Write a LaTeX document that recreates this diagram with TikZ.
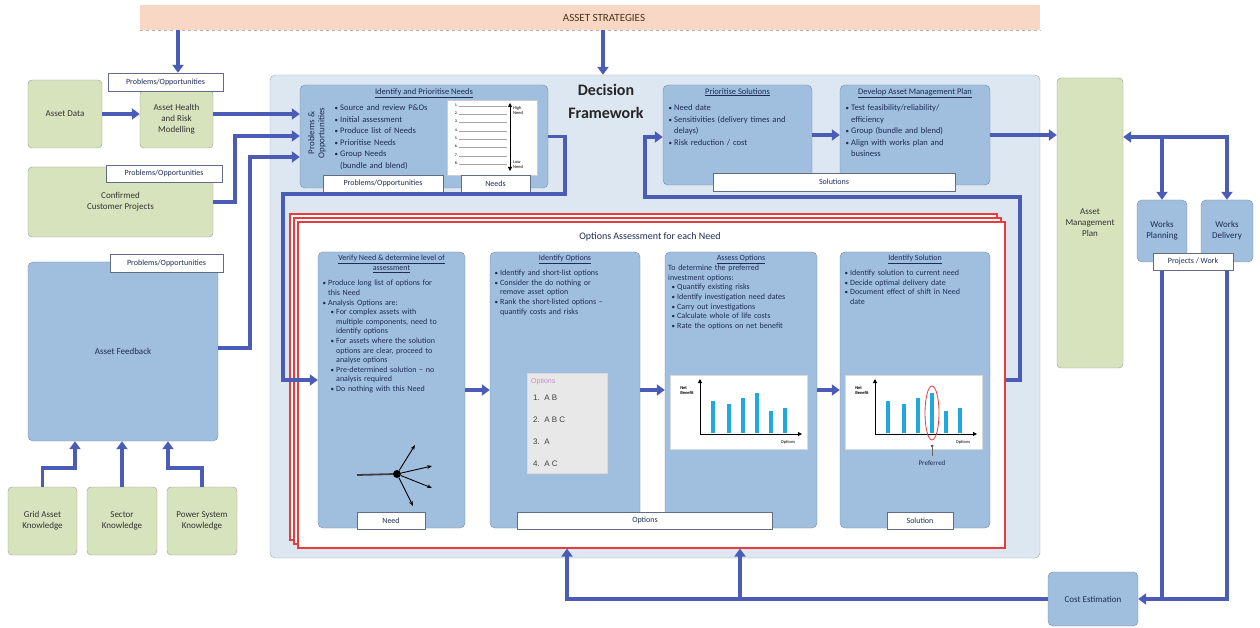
\documentclass[tikz,border=0pt]{standalone}
\usepackage{fontspec}
\setmainfont{Carlito}
\newfontfamily\arialfont{Liberation Sans}
\usepackage{enumitem}
\setlist[itemize]{nosep,leftmargin=7pt,labelsep=2pt,label={\scriptsize\textbullet}}
\setlist[itemize,2]{leftmargin=8pt}
\usetikzlibrary{arrows.meta,positioning}

\definecolor{flowblue}{RGB}{74,92,182}
\definecolor{greenfill}{RGB}{215,227,188}
\definecolor{bluefill}{RGB}{160,190,222}
\definecolor{bluedraw}{RGB}{120,138,165}
\definecolor{framefill}{RGB}{221,231,241}
\definecolor{peach}{RGB}{248,216,196}
\definecolor{textnavy}{RGB}{30,45,85}
\definecolor{pagered}{RGB}{232,60,60}
\definecolor{barcyan}{RGB}{32,168,224}

\tikzset{
  greenbox/.style={draw=gray!80, fill=greenfill, rounded corners=4pt, align=center, inner sep=0pt, font=\fontsize{9}{11}\selectfont, text=black!80},
  bluebox/.style={draw=bluedraw, fill=bluefill, rounded corners=5pt, align=center, inner sep=0pt, font=\fontsize{9}{11}\selectfont, text=textnavy},
  tag/.style={draw=textnavy!70, fill=white, font=\fontsize{8}{9}\selectfont, text=textnavy, inner sep=0pt},
  flow/.style={draw=flowblue, line width=3.5pt, -{Triangle[length=8pt,width=11pt]}},
  flowline/.style={draw=flowblue, line width=3.5pt},
  boxtitle/.style={font=\fontsize{8}{9.6}\selectfont, text=textnavy, align=center, anchor=north, inner sep=0pt},
  boxtext/.style={font=\fontsize{8}{9.6}\selectfont, text=textnavy, align=left, anchor=north west, inner sep=0pt},
  stackpage/.style={draw=pagered, line width=1.2pt, fill=white},
  axis/.style={line width=1pt, -{Triangle[length=4pt,width=4pt]}},
}

\begin{document}
\begin{tikzpicture}[x=1pt,y=-1pt]
\useasboundingbox (0,0) rectangle (1260,628);

% asset strategies
\node[fill=peach, minimum width=900pt, minimum height=25pt, inner sep=0pt] (strat) at (590,17.5) {};
\draw[gray!60, dashed, line width=0.8pt] (strat.south west) -- (strat.south east);
\node[font=\fontsize{11}{13}\selectfont, text=brown!40!black] (strattext) at (604,18) {ASSET STRATEGIES};

% decision framework
\node[draw=gray!70, fill=framefill, rounded corners=5pt, minimum width=770pt, minimum height=483pt, inner sep=0pt] (frame) at (655,316.5) {};
\node[font=\fontsize{16}{23}\selectfont\bfseries, align=center, text=black!85] (frametitle) at (606,101) {Decision\\Framework};
\draw[flow] (strat.south -| 603,0) -- (frame.north -| 603,0);

% inputs on the left
\node[greenbox, minimum width=74pt, minimum height=68pt] (adata) at (65,114) {Asset Data};
\node[greenbox, minimum width=73pt, minimum height=58pt] (ahrm) at (176.5,119) {Asset Health\\and Risk\\Modelling};
\node[tag, minimum width=115pt, minimum height=18pt] (ahrmtag) at (165.5,82) {Problems/Opportunities};
\draw[flow] (strat.south -| 178,0) -- (ahrmtag.north -| 178,0);
\draw[flow] (adata.east) -- (ahrm.west |- adata.east);
\node[greenbox, minimum width=185pt, minimum height=70pt] (ccp) at (120.5,202) {Confirmed\\Customer Projects};
\node[tag, minimum width=116pt, minimum height=17pt] (ccptag) at (164,173.5) {Problems/Opportunities};
\node[bluebox, minimum width=190pt, minimum height=179pt] (afb) at (123,351.5) {Asset Feedback};
\node[tag, minimum width=113pt, minimum height=18pt] (afbtag) at (166.5,263) {Problems/Opportunities};
\node[greenbox, minimum width=69pt, minimum height=68pt] (gak) at (42.5,521) {Grid Asset\\Knowledge};
\node[greenbox, minimum width=70pt, minimum height=68pt] (sk) at (122,521) {Sector\\Knowledge};
\node[greenbox, minimum width=70pt, minimum height=68pt] (psk) at (202,521) {Power System\\Knowledge};
\draw[flow] (gak.north) -- (42.5,468) -- (75,468) -- (afb.south -| 75,0);
\draw[flow] (sk.north) -- (afb.south -| sk.north);
\draw[flow] (psk.north) -- (202,468) -- (168,468) -- (afb.south -| 168,0);

% identify and prioritise needs
\node[bluebox, minimum width=248pt, minimum height=103pt] (needs) at (424,136.5) {};
\node[boxtitle, font=\fontsize{8.5}{11}\selectfont] (needstitle) at (424,88) {\underline{Identify and Prioritise Needs}};
\node[rotate=90, align=center, font=\fontsize{9}{10}\selectfont, text=textnavy] (povert) at (317,133) {Problems \&\\Opportunities};
\node[boxtext, text width=118pt, font=\fontsize{8.5}{11.5}\selectfont] (needstext) at (333,99) {\begin{itemize}
  \item Source and review P\&Os
  \item Initial assessment
  \item Produce list of Needs
  \item Prioritise Needs
  \item Group Needs\newline(bundle and blend)
\end{itemize}};
\node[fill=white, draw=gray!40, minimum width=90pt, minimum height=75pt, inner sep=0pt] (rank) at (492,137.5) {};
\foreach \i in {1,...,8} {
  \node[font=\fontsize{4}{4}\selectfont, inner sep=0pt, anchor=east] at (458,{105+(\i-1)*8.3}) {\i.};
  \draw[gray!70, line width=0.4pt] (459,{106+(\i-1)*8.3}) -- (507,{106+(\i-1)*8.3});
}
\draw[{Triangle[length=4pt,width=4pt]}-{Triangle[length=4pt,width=4pt]}, line width=0.8pt] (510,103) -- (510,171);
\node[font=\fontsize{4.5}{5}\selectfont, align=left, anchor=west, inner sep=0pt] (high) at (513,110) {High\\Need};
\node[font=\fontsize{4.5}{5}\selectfont, align=left, anchor=west, inner sep=0pt] (low) at (513,165) {Low\\Need};
\node[tag, minimum width=120pt, minimum height=17pt] (potag) at (383,183.5) {Problems/Opportunities};
\node[tag, minimum width=69pt, minimum height=17pt] (needstag) at (495.5,183.5) {Needs};
\draw[flow] (ahrm.east |- adata.east) -- (needs.west |- adata.east);
\draw[flow] (ccp.east) -- (235,202) -- (235,136) -- (needs.west |- 0,136);
\draw[flow] (afb.east |- 0,348) -- (250,348) -- (250,157) -- (needs.west |- 0,157);

% solutions
\node[bluebox, minimum width=149pt, minimum height=100pt] (prio) at (737.5,135) {};
\node[boxtitle, font=\fontsize{8.5}{11}\selectfont] (priotitle) at (737.5,88) {\underline{Prioritise Solutions}};
\node[boxtext, text width=142pt, font=\fontsize{8.5}{11.5}\selectfont] (priotext) at (667,99) {\begin{itemize}
  \item Need date
  \item Sensitivities (delivery times and\newline delays)
  \item Risk reduction / cost
\end{itemize}};
\node[bluebox, minimum width=150pt, minimum height=100pt] (damp) at (915,135) {};
\node[boxtitle, font=\fontsize{8.5}{11}\selectfont] (damptitle) at (915,88) {\underline{Develop Asset Management Plan}};
\node[boxtext, text width=142pt, font=\fontsize{8.5}{11.5}\selectfont] (damptext) at (844,99) {\begin{itemize}
  \item Test feasibility/reliability/\newline efficiency
  \item Group (bundle and blend)
  \item Align with works plan and\newline business
\end{itemize}};
\node[tag, minimum width=242pt, minimum height=18pt] (soltag) at (834,182) {Solutions};
\draw[flow] (prio.east) -- (damp.west);

% options assessment stack
\draw[stackpage] (290,214) rectangle (997,540);
\draw[stackpage] (294,218) rectangle (1001,544);
\node[stackpage, minimum width=707pt, minimum height=326pt, inner sep=0pt] (oa) at (651.5,385) {};
\node[font=\fontsize{10}{12}\selectfont, text=textnavy] (oatitle) at (650,237) {Options Assessment for each Need};

\node[bluebox, minimum width=147pt, minimum height=276pt] (verify) at (391.5,390) {};
\node[bluebox, minimum width=150pt, minimum height=276pt] (idopt) at (565,390) {};
\node[bluebox, minimum width=152pt, minimum height=276pt] (assess) at (741,390) {};
\node[bluebox, minimum width=150pt, minimum height=276pt] (idsol) at (915,390) {};
\draw[flow] (verify.east) -- (idopt.west);
\draw[flow] (idopt.east) -- (assess.west);
\draw[flow] (assess.east) -- (idsol.west);

\node[boxtitle] (verifytitle) at (391.5,255) {\underline{Verify Need \& determine level of}\\\underline{assessment}};
\node[boxtext, text width=142pt] (verifytext) at (321,276) {\begin{itemize}
  \item Produce long list of options for\newline this Need
  \item Analysis Options are:
  \begin{itemize}
    \item For complex assets with\newline multiple components, need to\newline identify options
    \item For assets where the solution\newline options are clear, proceed to\newline analyse options
    \item Pre-determined solution -- no\newline analysis required
    \item Do nothing with this Need
  \end{itemize}
\end{itemize}};
\draw[gray!50!black, line width=1.8pt] (357,475) -- (395,474);
\node[circle, fill=black, inner sep=0pt, minimum size=8pt] (hub) at (397,474) {};
\foreach \ex/\ey in {415/445,432/466,432/488,413/506}
  \draw[-{Stealth[length=5pt]}, line width=0.9pt] (hub) -- (\ex,\ey);

\node[boxtitle] (idopttitle) at (565,255) {\underline{Identify Options}};
\node[boxtext, text width=145pt] (idopttext) at (493,266) {\begin{itemize}
  \item Identify and short-list options
  \item Consider the do nothing or\newline remove asset option
  \item Rank the short-listed options --\newline quantify costs and risks
\end{itemize}};
\node[fill=gray!18, draw=gray!30, minimum width=80pt, minimum height=100pt, inner sep=0pt] (optlist) at (567,423) {};
\node[anchor=west, font=\arialfont\fontsize{7}{8}\selectfont, text=violet!45, inner sep=0pt] (optlisthead) at (531,382) {Options};
\foreach \k/\t in {1/A B,2/A B C,3/A,4/A C}
  \node[anchor=west, font=\arialfont\fontsize{8}{9}\selectfont, text=gray!50!black, inner sep=0pt] at (533,{398+(\k-1)*22}) {\k.\ \ \t};

\node[boxtitle] (assesstitle) at (741,255) {\underline{Assess Options}};
\node[boxtext, text width=148pt] (assesstext) at (668,265) {To determine the preferred\newline investment options:
\begin{itemize}[leftmargin=9pt]
  \item Quantify existing risks
  \item Identify investigation need dates
  \item Carry out investigations
  \item Calculate whole of life costs
  \item Rate the options on net benefit
\end{itemize}};

\node[boxtitle] (idsoltitle) at (915,255) {\underline{Identify Solution}};
\node[boxtext, text width=146pt] (idsoltext) at (843,266) {\begin{itemize}
  \item Identify solution to current need
  \item Decide optimal delivery date
  \item Document effect of shift in Need\newline date
\end{itemize}};

% net benefit charts
\foreach \cx in {0,175} {
  \begin{scope}[xshift=\cx pt]
    \node[fill=white, draw=gray!30, minimum width=137pt, minimum height=74pt, inner sep=0pt] at (738.5,412) {};
    \foreach \bx/\by in {713/401,729/404,743/398,757/393,771/411,785/408}
      \fill[barcyan] (\bx-2,433) rectangle (\bx+2,\by);
    \draw[axis] (700,434) -- (700,379);
    \draw[axis] (700,434) -- (802,434);
    \node[font=\fontsize{4.5}{5}\selectfont\bfseries, align=left, inner sep=0pt] at (687,391) {Net\\Benefit};
    \node[font=\fontsize{4.5}{5}\selectfont, inner sep=0pt] at (788,442) {Options};
  \end{scope}
}
\draw[pagered, line width=0.8pt] (932,413) ellipse [x radius=7pt, y radius=27pt];
\fill[black!70] (932,446) circle [radius=1.5pt];
\draw[black!60, line width=0.5pt] (932,446) -- (932,456);
\node[font=\fontsize{7}{8}\selectfont, text=textnavy] (preferred) at (932,463) {Preferred};

\node[tag, minimum width=68pt, minimum height=17pt] (needtag) at (391,520.5) {Need};
\node[tag, minimum width=255pt, minimum height=17pt] (optstag) at (645,520.5) {Options};
\node[tag, minimum width=66pt, minimum height=17pt] (soltag2) at (920,521) {Solution};

% loops inside the framework
\draw[flow] (needs.east) -- (565,136.5) -- (565,194) -- (283,194) -- (283,380) -- (verify.west |- 0,380);
\draw[flow] (oa.east |- 0,380) -- (1020,380) -- (1020,197) -- (645,197) -- (645,137) -- (prio.west |- 0,137);

% right side
\node[greenbox, minimum width=66pt, minimum height=290pt] (amp) at (1090,223) {Asset\\Management\\Plan};
\node[bluebox, minimum width=50pt, minimum height=62pt] (wp) at (1162,231) {Works\\Planning};
\node[bluebox, minimum width=52pt, minimum height=62pt] (wd) at (1227,231) {Works\\Delivery};
\node[bluebox, minimum width=90pt, minimum height=54pt] (ce) at (1093,599) {Cost Estimation};
\draw[flow] (damp.east) -- (amp.west |- damp.east);
\coordinate (split) at (1227,137);
\draw[flow] ([xshift=1.75pt]split) -- (amp.east |- split);
\draw[flow] (split) -- (wd.north);
\draw[flow] (wp.north |- split) -- (wp.north);
\draw[flowline] (wp.south) -- (wp.south |- ce.east);
\draw[flow] (wd.south) |- (ce.east);
\node[tag, minimum width=80pt, minimum height=17pt] (pwtag) at (1193,261.5) {Projects / Work};
\draw[flow] (ce.west) -- (567,599) -- (oa.south -| 567,0);
\draw[flow] (740,599) -- (oa.south -| 740,0);
\end{tikzpicture}
\end{document}
